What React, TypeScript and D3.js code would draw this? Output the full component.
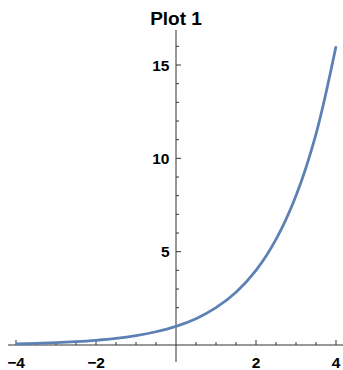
import React, { useRef, useEffect } from "react";
import * as d3 from "d3";

// values
const xValues = [-4, -3.5, -3, -2.5, -2, -1.5, -1, -0.5, 0, 0.5, 1, 1.5, 2, 2.5, 3, 3.5, 4];
const yValues = [0.06, 0.09, 0.13, 0.18, 0.25, 0.35, 0.5, 0.71, 1, 1.41, 2, 2.83, 4, 5.66, 8, 11.3, 16];
const xTicks = [-4, -2, 2, 4];
const yTicks = [5, 10, 15];
const title = "Plot 1";

const W = 343;
const H = 370;

const App = () => {
  const svgRef = useRef<SVGSVGElement>(null);

  useEffect(() => {
    const svg = d3.select(svgRef.current);
    svg.selectAll("*").remove();

    const x = d3.scaleLinear().domain([-4, 4]).range([16, 336]);
    const y = d3.scaleLinear().domain([0, 15]).range([345, 65]);
    const font = "Arial, 'Liberation Sans', sans-serif";
    const axisColor = "#333";

    // title
    svg
      .append("text")
      .attr("x", x(0))
      .attr("y", 24.5)
      .attr("text-anchor", "middle")
      .style("font-family", font)
      .style("font-weight", "bold")
      .style("font-size", "19px")
      .text(title);

    // x axis line
    svg
      .append("line")
      .attr("x1", 8)
      .attr("x2", W)
      .attr("y1", y(0))
      .attr("y2", y(0))
      .attr("stroke", axisColor);

    // y axis line
    svg
      .append("line")
      .attr("x1", x(0))
      .attr("x2", x(0))
      .attr("y1", 30)
      .attr("y2", 362)
      .attr("stroke", axisColor);

    // x ticks (minor every 0.5)
    d3.range(-4, 4.01, 0.5).forEach((v) => {
      if (v === 0) return;
      const major = Number.isInteger(v / 2);
      svg
        .append("line")
        .attr("x1", x(v))
        .attr("x2", x(v))
        .attr("y1", y(0))
        .attr("y2", y(0) - (major ? 5 : 3))
        .attr("stroke", axisColor);
    });

    // y ticks (minor every 1)
    d3.range(1, 17).forEach((v) => {
      const major = yTicks.includes(v);
      svg
        .append("line")
        .attr("x1", x(0))
        .attr("x2", x(0) + (major ? 5 : 3))
        .attr("y1", y(v))
        .attr("y2", y(v))
        .attr("stroke", axisColor);
    });

    svg
      .append("g")
      .selectAll("text")
      .data(xTicks)
      .enter()
      .append("text")
      .attr("x", (d) => x(d))
      .attr("y", 367.5)
      .attr("text-anchor", "middle")
      .style("font-family", font)
      .style("font-weight", "bold")
      .style("font-size", "15.5px")
      .text((d) => (d < 0 ? "\u2212" + Math.abs(d) : d));

    svg
      .append("g")
      .selectAll("text")
      .data(yTicks)
      .enter()
      .append("text")
      .attr("x", x(0) - 6.5)
      .attr("y", (d) => y(d) + 5.8)
      .attr("text-anchor", "end")
      .style("font-family", font)
      .style("font-weight", "bold")
      .style("font-size", "15.5px")
      .text((d) => d);

    const line = d3
      .line<number>()
      .x((d, i) => x(xValues[i]))
      .y((d) => y(d))
      .curve(d3.curveCatmullRom);

    svg
      .append("path")
      .attr("d", line(yValues))
      .attr("fill", "none")
      .attr("stroke", "#5e81b5")
      .attr("stroke-width", 2.8);
  }, []);

  return (
    <svg
      ref={svgRef}
      width={W}
      height={H}
      style={{ position: "absolute", left: 0, top: 0, background: "#fff" }}
    />
  );
};

export default App;
